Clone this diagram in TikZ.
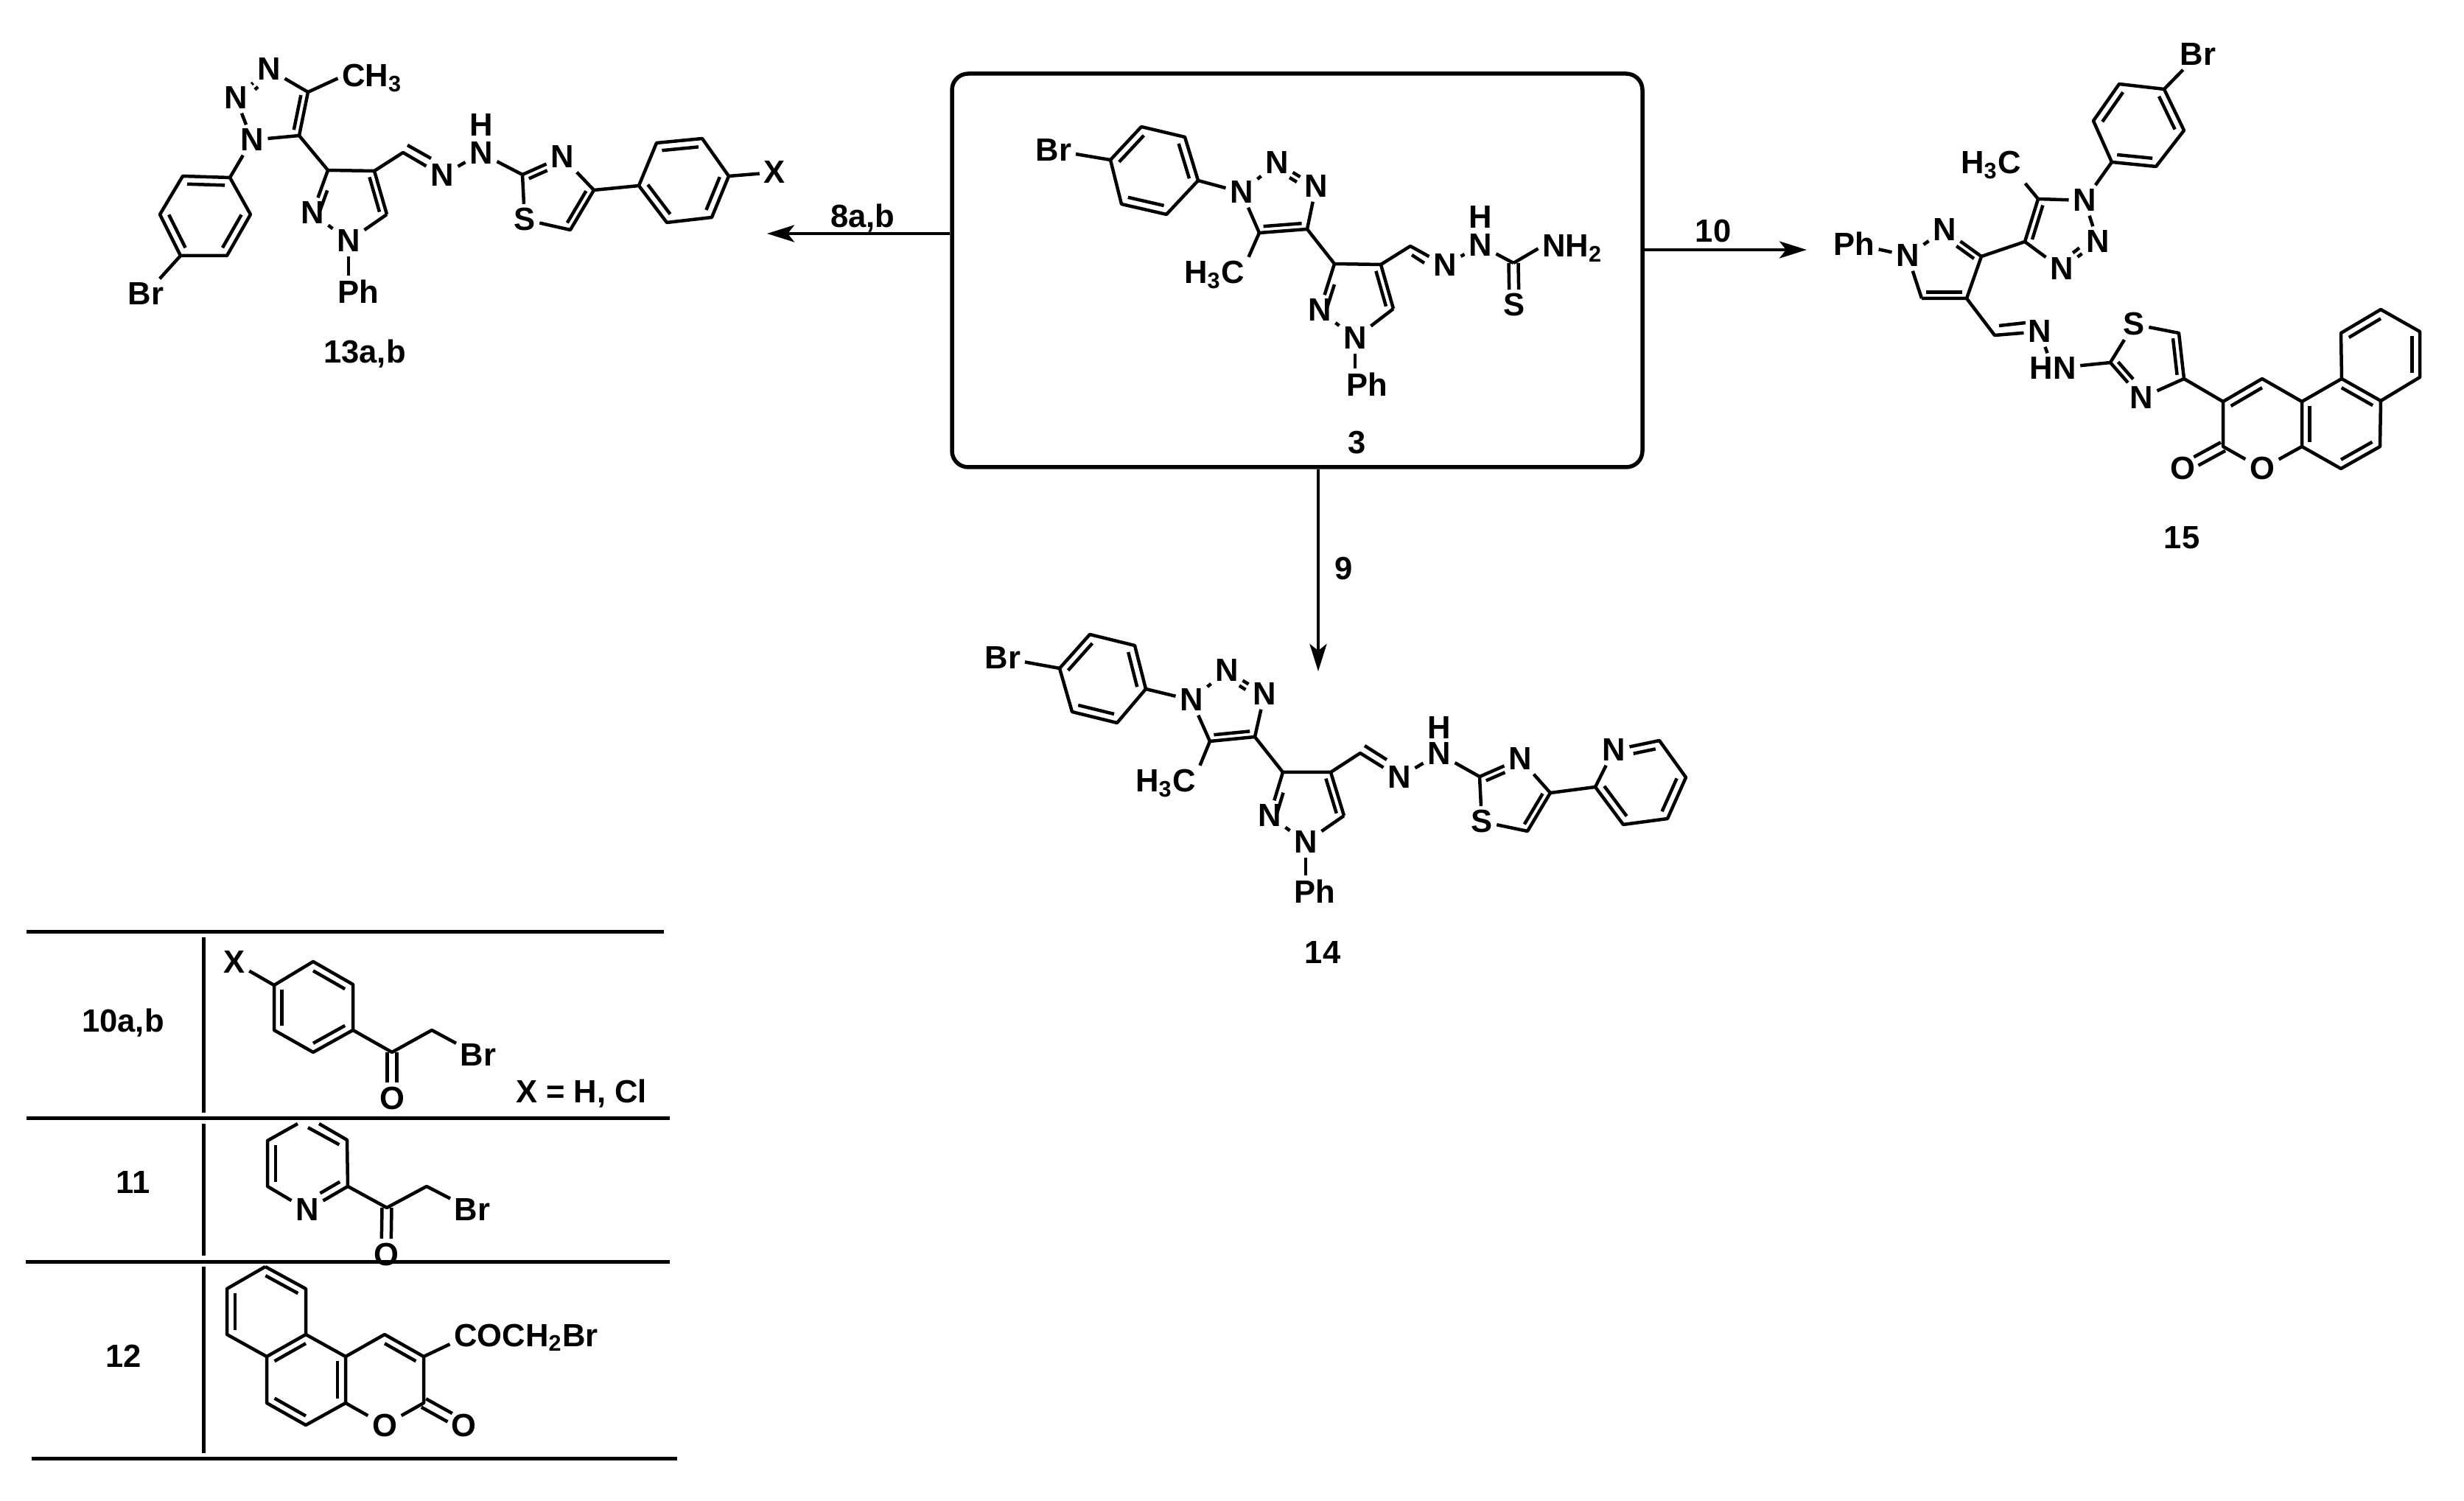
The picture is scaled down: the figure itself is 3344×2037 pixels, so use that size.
\documentclass[tikz,border=0pt]{standalone}
\usepackage{fontspec}
\setmainfont{Liberation Sans}
\usetikzlibrary{arrows.meta,calc}
\tikzset{
    atom/.style={inner sep=.35mm, font=\fontsize{12.4}{15}\selectfont\bfseries},
    cpd/.style={inner sep=0pt, font=\fontsize{12.4}{15}\selectfont\bfseries},
    rxn/.style={line width=.45mm, -{Stealth[length=3.7mm,width=2.3mm,inset=.9mm]}},
    rule/.style={line width=.5mm}
}
\newcommand{\inbond}[4][]{\draw[#1] ($(#2)!.2!(#4)$) -- ($(#3)!.2!(#4)$);}
\newcommand{\twobond}[2]{
    \draw[shorten >=2.1mm] ($(#1)!.65mm!90:(#2)$) -- ($(#2)!.65mm!-90:(#1)$);
    \draw[shorten >=2.1mm] ($(#1)!.65mm!-90:(#2)$) -- ($(#2)!.65mm!90:(#1)$);
}
\begin{document}
\begin{tikzpicture}[x=.1mm, y=-.1mm, line width=.45mm, line join=round]
    \useasboundingbox (0,0) rectangle (3344,2037);

    \node[draw, rounded corners=2.2mm, line width=.55mm, inner sep=0pt, minimum width=93.7mm, minimum height=53.4mm] (box) at (1760.5,367) {};
    \coordinate (lt) at (1041,317);
    \coordinate (rt) at (2452,339);
    \coordinate (dn) at (1789,911);
    \draw[rxn] (box.west |- lt) -- (lt);
    \draw[rxn] (box.east |- rt) -- (rt);
    \draw[rxn] (box.south -| dn) -- (dn);
    \node[cpd] (l8) at (1171,296) {8a,b};
    \node[cpd] (l9) at (1824,772) {9};
    \node[cpd] (l10) at (2325,314) {10};

    \node[atom] (abr) at (1430,204) {Br};
    \coordinate (ap1) at (1507,217);
    \coordinate (ap2) at (1549,172);
    \coordinate (ap3) at (1608,186);
    \coordinate (ap4) at (1626,245);
    \coordinate (ap5) at (1583,291);
    \coordinate (ap6) at (1522,277);
    \coordinate (apc) at (1566,231);
    \node[atom] (an1) at (1685,261) {N};
    \node[atom] (an2) at (1733,221) {N};
    \node[atom] (an3) at (1786,253) {N};
    \coordinate (ac4) at (1774,311);
    \coordinate (ac5) at (1709,316);
    \coordinate (atc) at (1737,272);
    \node[atom, anchor=base east] (ame) at (1694.5,385) {H\textsubscript{3}C};
    \coordinate (ay3) at (1811,358);
    \coordinate (ay4) at (1874,359);
    \coordinate (ay5) at (1891,419);
    \node[atom] (ay1) at (1839,459) {N};
    \node[atom] (ay2) at (1791,421) {N};
    \coordinate (ayc) at (1841,403);
    \node[atom] (aph) at (1855,522) {Ph};
    \coordinate (ach) at (1914,334);
    \coordinate (ai1) at (1916,346);
    \coordinate (ai2) at (1933,357);
    \node[atom] (ani) at (1961,360) {N};
    \node[atom] (anh) at (2009,333) {N};
    \node[atom] (ahh) at (2009,295) {H};
    \coordinate (acs) at (2054,357);
    \node[atom, anchor=base west] (anh2) at (2087.5,349) {NH\textsubscript{2}};
    \node[atom] (as) at (2055,414) {S};
    \node[cpd] (l3) at (1842,601) {3};
    \draw (abr) -- (ap1) -- (ap2) -- (ap3) -- (ap4) -- (ap5) -- (ap6) -- (ap1);
    \inbond{ap1}{ap2}{apc}
    \inbond{ap3}{ap4}{apc}
    \inbond{ap5}{ap6}{apc}
    \draw (ap4) -- (an1);
    \draw (an1) -- (an2);
    \draw (an2) -- (an3);
    \inbond[shorten <=1.9mm, shorten >=1.9mm]{an2}{an3}{atc}
    \draw (an3) -- (ac4);
    \draw (ac4) -- (ac5);
    \draw (ac5) -- (an1);
    \inbond{ac4}{ac5}{atc}
    \draw (ac5) -- (ame.north east);
    \draw (ac4) -- (ay3) -- (ay4) -- (ay5);
    \draw (ay5) -- (ay1);
    \draw (ay1) -- (ay2);
    \draw (ay2) -- (ay3);
    \inbond[shorten <=2mm]{ay3}{ay2}{ayc}
    \inbond{ay4}{ay5}{ayc}
    \draw (ay1) -- (ay1.south |- aph.north);
    \draw (ay4) -- (ach) -- (ani);
    \draw (ai1) -- (ai2);
    \draw (ani) -- (anh);
    \draw (anh) -- (acs);
    \draw (acs) -- (anh2.west);
    \twobond{acs}{as}

    \node[atom] (bn2) at (365,94) {N};
    \node[atom] (bn3) at (320,133) {N};
    \node[atom] (bn1) at (342,190) {N};
    \coordinate (bc4) at (418,125);
    \coordinate (bc5) at (406,184);
    \coordinate (btc) at (370,145);
    \node[atom, anchor=base west] (bme) at (458.5,118) {CH\textsubscript{3}};
    \coordinate (bp1) at (312,241);
    \coordinate (bp2) at (248,239);
    \coordinate (bp3) at (217,291);
    \coordinate (bp4) at (245,347);
    \coordinate (bp5) at (308,347);
    \coordinate (bp6) at (340,291);
    \coordinate (bpc) at (278,293);
    \node[atom] (bbr) at (198,399) {Br};
    \coordinate (by3) at (445,231);
    \coordinate (by4) at (508,232);
    \coordinate (by5) at (525,291);
    \node[atom] (by1) at (473,327) {N};
    \node[atom] (by2) at (424,289) {N};
    \coordinate (byc) at (475,274);
    \node[atom] (bph) at (486,396) {Ph};
    \coordinate (bch) at (547,207);
    \coordinate (bi1) at (553,197);
    \coordinate (bi2) at (585,215);
    \node[atom] (bni) at (600,238) {N};
    \node[atom] (bnh) at (653,208) {N};
    \node[atom] (bhh) at (653,170) {H};
    \coordinate (bz2) at (709,237);
    \node[atom] (bz3) at (763,213) {N};
    \coordinate (bz4) at (806,258);
    \coordinate (bz5) at (774,312);
    \node[atom] (bs) at (712,298) {S};
    \coordinate (bzc) at (753,264);
    \coordinate (bq1) at (867,252);
    \coordinate (bq2) at (891,194);
    \coordinate (bq3) at (953,188);
    \coordinate (bq4) at (989,239);
    \coordinate (bq5) at (966,295);
    \coordinate (bq6) at (905,302);
    \coordinate (bqc) at (928,245);
    \node[atom] (bx) at (1051,234) {X};
    \node[cpd] (l13) at (495,480) {13a,b};
    \draw (bn1) -- (bn3);
    \draw (bn3) -- (bn2);
    \inbond[shorten <=2.1mm, shorten >=2.1mm]{bn3}{bn2}{btc}
    \draw (bn2) -- (bc4) -- (bc5) -- (bn1);
    \inbond{bc4}{bc5}{btc}
    \draw (bc4) -- (bme.west);
    \draw (bn1) -- (bp1) -- (bp2) -- (bp3) -- (bp4) -- (bp5) -- (bp6) -- (bp1);
    \inbond{bp1}{bp2}{bpc}
    \inbond{bp3}{bp4}{bpc}
    \inbond{bp5}{bp6}{bpc}
    \draw (bp4) -- (bbr);
    \draw (bc5) -- (by3) -- (by4) -- (by5);
    \draw (by5) -- (by1);
    \draw (by1) -- (by2);
    \draw (by2) -- (by3);
    \inbond[shorten <=2mm]{by3}{by2}{byc}
    \inbond{by4}{by5}{byc}
    \draw (by1) -- (by1.south |- bph.north);
    \draw (by4) -- (bch) -- (bni);
    \draw (bi1) -- (bi2);
    \draw (bni) -- (bnh);
    \draw (bnh) -- (bz2);
    \draw (bz2) -- (bz3);
    \inbond[shorten >=2mm]{bz2}{bz3}{bzc}
    \draw (bz3) -- (bz4) -- (bz5) -- (bs);
    \draw (bs) -- (bz2);
    \inbond{bz4}{bz5}{bzc}
    \draw (bz4) -- (bq1) -- (bq2) -- (bq3) -- (bq4) -- (bq5) -- (bq6) -- (bq1);
    \inbond{bq2}{bq3}{bqc}
    \inbond{bq4}{bq5}{bqc}
    \inbond{bq6}{bq1}{bqc}
    \draw (bq4) -- (bx);

    \node[atom] (cbr) at (1361,893) {Br};
    \coordinate (cp1) at (1438,907);
    \coordinate (cp2) at (1479,861);
    \coordinate (cp3) at (1540,876);
    \coordinate (cp4) at (1555,935);
    \coordinate (cp5) at (1516,981);
    \coordinate (cp6) at (1455,966);
    \coordinate (cpc) at (1496,921);
    \node[atom] (cn1) at (1617,950) {N};
    \node[atom] (cn2) at (1665,910) {N};
    \node[atom] (cn3) at (1716,942) {N};
    \coordinate (cc4) at (1703,1000);
    \coordinate (cc5) at (1642,1006);
    \coordinate (ctc) at (1669,962);
    \node[atom, anchor=base east] (cme) at (1628.5,1075) {H\textsubscript{3}C};
    \coordinate (cy3) at (1741,1048);
    \coordinate (cy4) at (1806,1048);
    \coordinate (cy5) at (1824,1107);
    \node[atom] (cy1) at (1772,1143) {N};
    \node[atom] (cy2) at (1723,1107) {N};
    \coordinate (cyc) at (1773,1091);
    \node[atom] (cph) at (1784,1210) {Ph};
    \coordinate (cch) at (1846,1022);
    \coordinate (ci1) at (1852,1012);
    \coordinate (ci2) at (1882,1031);
    \node[atom] (cni) at (1899,1055) {N};
    \node[atom] (cnh) at (1953,1023) {N};
    \node[atom] (chh) at (1953,988) {H};
    \coordinate (cz2) at (2008,1054);
    \node[atom] (cz3) at (2063,1030) {N};
    \coordinate (cz4) at (2104,1076);
    \coordinate (cz5) at (2073,1128);
    \node[atom] (cs) at (2011,1115) {S};
    \coordinate (czc) at (2052,1081);
    \coordinate (cq1) at (2165,1068);
    \node[atom] (cq2) at (2190,1018) {N};
    \coordinate (cq3) at (2252,1005);
    \coordinate (cq4) at (2288,1055);
    \coordinate (cq5) at (2263,1111);
    \coordinate (cq6) at (2203,1119);
    \coordinate (cqc) at (2226,1062);
    \node[cpd] (l14) at (1795,1293) {14};
    \draw (cbr) -- (cp1) -- (cp2) -- (cp3) -- (cp4) -- (cp5) -- (cp6) -- (cp1);
    \inbond{cp1}{cp2}{cpc}
    \inbond{cp3}{cp4}{cpc}
    \inbond{cp5}{cp6}{cpc}
    \draw (cp4) -- (cn1);
    \draw (cn1) -- (cn2);
    \draw (cn2) -- (cn3);
    \inbond[shorten <=1.9mm, shorten >=1.9mm]{cn2}{cn3}{ctc}
    \draw (cn3) -- (cc4) -- (cc5) -- (cn1);
    \inbond{cc4}{cc5}{ctc}
    \draw (cc5) -- (cme.north east);
    \draw (cc4) -- (cy3) -- (cy4) -- (cy5);
    \draw (cy5) -- (cy1);
    \draw (cy1) -- (cy2);
    \draw (cy2) -- (cy3);
    \inbond[shorten <=2mm]{cy3}{cy2}{cyc}
    \inbond{cy4}{cy5}{cyc}
    \draw (cy1) -- (cy1.south |- cph.north);
    \draw (cy4) -- (cch) -- (cni);
    \draw (ci1) -- (ci2);
    \draw (cni) -- (cnh);
    \draw (cnh) -- (cz2);
    \draw (cz2) -- (cz3);
    \inbond[shorten >=2mm]{cz2}{cz3}{czc}
    \draw (cz3) -- (cz4) -- (cz5) -- (cs);
    \draw (cs) -- (cz2);
    \inbond{cz4}{cz5}{czc}
    \draw (cz4) -- (cq1) -- (cq2);
    \draw (cq2) -- (cq3) -- (cq4) -- (cq5) -- (cq6) -- (cq1);
    \inbond[shorten <=2mm]{cq2}{cq3}{cqc}
    \inbond{cq4}{cq5}{cqc}
    \inbond{cq6}{cq1}{cqc}

    \node[atom] (dbr) at (2983,74) {Br};
    \coordinate (dp1) at (2937,121);
    \coordinate (dp2) at (2876,114);
    \coordinate (dp3) at (2841,164);
    \coordinate (dp4) at (2866,220);
    \coordinate (dp5) at (2926,226);
    \coordinate (dp6) at (2964,177);
    \coordinate (dpc) at (2902,170);
    \node[atom] (dn1) at (2829,272) {N};
    \node[atom] (dn2) at (2847,328) {N};
    \node[atom] (dn3) at (2798,365) {N};
    \coordinate (dc4) at (2748,328);
    \coordinate (dc5) at (2766,270);
    \coordinate (dtc) at (2798,313);
    \node[atom, anchor=base east] (dme) at (2748.5,236) {H\textsubscript{3}C};
    \coordinate (dy3) at (2689,348);
    \node[atom] (dy2) at (2639,312) {N};
    \node[atom] (dy1) at (2589,347) {N};
    \coordinate (dy5) at (2608,405);
    \coordinate (dy4) at (2669,405);
    \coordinate (dyc) at (2639,363);
    \node[atom] (dph) at (2516,331) {Ph};
    \coordinate (dch) at (2707,455);
    \coordinate (di1) at (2713,442);
    \coordinate (di2) at (2749,438);
    \node[atom] (dni) at (2768,450) {N};
    \node[atom] (dnh) at (2786,500) {HN};
    \coordinate (dz2) at (2864,492);
    \node[atom] (ds) at (2896,440) {S};
    \coordinate (dz5) at (2957,452);
    \coordinate (dz4) at (2964,514);
    \node[atom] (dz3) at (2906,540) {N};
    \coordinate (dzc) at (2917,488);
    \coordinate (dk3) at (3017,545);
    \coordinate (dk4) at (3070,514);
    \coordinate (dka) at (3124,545);
    \coordinate (dkb) at (3178,514);
    \coordinate (dkc) at (3231,544);
    \coordinate (dkd) at (3230,606);
    \coordinate (dke) at (3177,636);
    \coordinate (dkf) at (3124,606);
    \node[atom] (do1) at (3070,636) {O};
    \coordinate (dk2) at (3017,606);
    \node[atom] (do2) at (2962,636) {O};
    \coordinate (dr1) at (3177,452);
    \coordinate (dr2) at (3231,420);
    \coordinate (dr3) at (3284,450);
    \coordinate (dr4) at (3284,512);
    \coordinate (dkp) at (3070,575);
    \coordinate (dkm) at (3177,575);
    \coordinate (dkt) at (3231,482);
    \node[cpd] (l15) at (2961,730) {15};
    \draw (dbr) -- (dp1) -- (dp2) -- (dp3) -- (dp4) -- (dp5) -- (dp6) -- (dp1);
    \inbond{dp2}{dp3}{dpc}
    \inbond{dp1}{dp6}{dpc}
    \inbond{dp4}{dp5}{dpc}
    \draw (dp4) -- (dn1);
    \draw (dn1) -- (dn2);
    \draw (dn2) -- (dn3);
    \inbond[shorten <=1.9mm, shorten >=1.9mm]{dn2}{dn3}{dtc}
    \draw (dn3) -- (dc4) -- (dc5) -- (dn1);
    \inbond{dc4}{dc5}{dtc}
    \draw (dc5) -- (dme.south east);
    \draw (dc4) -- (dy3) -- (dy4) -- (dy5);
    \draw (dy3) -- (dy2);
    \inbond[shorten >=2mm]{dy3}{dy2}{dyc}
    \draw (dy2) -- (dy1);
    \draw (dy1) -- (dy5);
    \inbond{dy4}{dy5}{dyc}
    \draw (dph) -- (dy1);
    \draw (dy4) -- (dch) -- (dni);
    \draw (di1) -- (di2);
    \draw (dni) -- (dnh);
    \draw (dnh) -- (dz2);
    \draw (dz2) -- (dz3);
    \inbond[shorten >=2mm]{dz2}{dz3}{dzc}
    \draw (dz3) -- (dz4) -- (dz5) -- (ds);
    \draw (ds) -- (dz2);
    \inbond{dz4}{dz5}{dzc}
    \draw (dz4) -- (dk3) -- (dk4) -- (dka) -- (dkb) -- (dkc) -- (dkd) -- (dke) -- (dkf) -- (dka);
    \draw (dk3) -- (dk2) -- (do1);
    \draw (do1) -- (dkf);
    \draw (dkb) -- (dr1) -- (dr2) -- (dr3) -- (dr4) -- (dkc);
    \inbond{dk3}{dk4}{dkp}
    \inbond{dka}{dkf}{dkm}
    \inbond{dkb}{dkc}{dkm}
    \inbond{dkd}{dke}{dkm}
    \inbond{dr1}{dr2}{dkt}
    \inbond{dr3}{dr4}{dkt}
    \twobond{dk2}{do2}

    \coordinate (r1a) at (36,1265);
    \coordinate (r1b) at (901,1265);
    \coordinate (r2a) at (36,1518);
    \coordinate (r2b) at (909,1518);
    \coordinate (r3a) at (35,1712);
    \coordinate (r3b) at (909,1712);
    \coordinate (r4a) at (43,1979);
    \coordinate (r4b) at (919,1979);
    \coordinate (v1a) at (276,1272);
    \coordinate (v1b) at (276,1510);
    \coordinate (v2a) at (276,1525);
    \coordinate (v2b) at (276,1704);
    \coordinate (v3a) at (276,1719);
    \coordinate (v3b) at (276,1972);
    \draw[rule] (r1a) -- (r1b);
    \draw[rule] (r2a) -- (r2b);
    \draw[rule] (r3a) -- (r3b);
    \draw[rule] (r4a) -- (r4b);
    \draw[rule] (v1a) -- (v1b);
    \draw[rule] (v2a) -- (v2b);
    \draw[rule] (v3a) -- (v3b);
    \node[cpd] (l10ab) at (167,1388) {10a,b};
    \node[cpd] (l11) at (181,1605) {11};
    \node[cpd] (l12) at (168,1840) {12};

    \node[atom] (ex) at (318,1306) {X};
    \coordinate (ep1) at (372,1337);
    \coordinate (ep2) at (425,1305);
    \coordinate (ep3) at (479,1336);
    \coordinate (ep4) at (479,1398);
    \coordinate (ep5) at (425,1428);
    \coordinate (ep6) at (372,1398);
    \coordinate (epc) at (425,1367);
    \coordinate (eco) at (532,1428);
    \coordinate (ech) at (586,1398);
    \node[atom] (ebr) at (649,1432) {Br};
    \node[atom] (eo) at (532,1490) {O};
    \node[atom] (exx) at (789,1484) {X = H, Cl};
    \draw (ex) -- (ep1) -- (ep2) -- (ep3) -- (ep4) -- (ep5) -- (ep6) -- (ep1);
    \inbond{ep2}{ep3}{epc}
    \inbond{ep4}{ep5}{epc}
    \inbond{ep6}{ep1}{epc}
    \draw (ep4) -- (eco) -- (ech) -- (ebr);
    \twobond{eco}{eo}

    \coordinate (fp1) at (472,1610);
    \coordinate (fp2) at (471,1547);
    \coordinate (fp3) at (418,1518);
    \coordinate (fg1) at (433,1525);
    \coordinate (fg2) at (404,1525);
    \coordinate (fp4) at (363,1548);
    \coordinate (fp5) at (363,1610);
    \node[atom] (fn) at (417,1642) {N};
    \coordinate (fpc) at (418,1579);
    \coordinate (fco) at (525,1639);
    \coordinate (fch) at (579,1610);
    \node[atom] (fbr) at (641,1642) {Br};
    \node[atom] (fo) at (524,1702) {O};
    \draw (fg1) -- (fp2) -- (fp1);
    \draw (fg2) -- (fp4) -- (fp5) -- (fn);
    \draw (fn) -- (fp1);
    \inbond{fp2}{fp3}{fpc}
    \inbond{fp4}{fp5}{fpc}
    \inbond[shorten <=2mm]{fn}{fp1}{fpc}
    \draw (fp1) -- (fco) -- (fch) -- (fbr);
    \twobond{fco}{fo}

    \coordinate (gt1) at (360,1719);
    \coordinate (gt2) at (415,1749);
    \coordinate (gt3) at (415,1811);
    \coordinate (gt4) at (362,1841);
    \coordinate (gt5) at (308,1811);
    \coordinate (gt6) at (308,1749);
    \coordinate (gm1) at (469,1841);
    \coordinate (gm2) at (469,1904);
    \coordinate (gm3) at (415,1934);
    \coordinate (gm4) at (362,1904);
    \coordinate (gk1) at (522,1811);
    \coordinate (gk2) at (575,1841);
    \coordinate (gk3) at (575,1904);
    \node[atom] (go1) at (522,1934) {O};
    \node[atom] (go2) at (629,1934) {O};
    \node[atom, anchor=base west] (gsd) at (610.5,1827) {COCH\textsubscript{2}Br};
    \coordinate (gtc) at (362,1780);
    \coordinate (gmc) at (415,1872);
    \coordinate (gkc) at (522,1872);
    \draw (gt1) -- (gt2) -- (gt3) -- (gt4) -- (gt5) -- (gt6) -- (gt1);
    \draw (gt3) -- (gm1) -- (gm2) -- (gm3) -- (gm4) -- (gt4);
    \draw (gm1) -- (gk1) -- (gk2) -- (gk3) -- (go1);
    \draw (go1) -- (gm2);
    \inbond{gt1}{gt2}{gtc}
    \inbond{gt5}{gt6}{gtc}
    \inbond{gt3}{gt4}{gmc}
    \inbond{gm1}{gm2}{gmc}
    \inbond{gm3}{gm4}{gmc}
    \inbond{gk1}{gk2}{gkc}
    \draw (gk2) -- ([yshift=-.9mm]gsd.west);
    \twobond{gk3}{go2}
\end{tikzpicture}
\end{document}
